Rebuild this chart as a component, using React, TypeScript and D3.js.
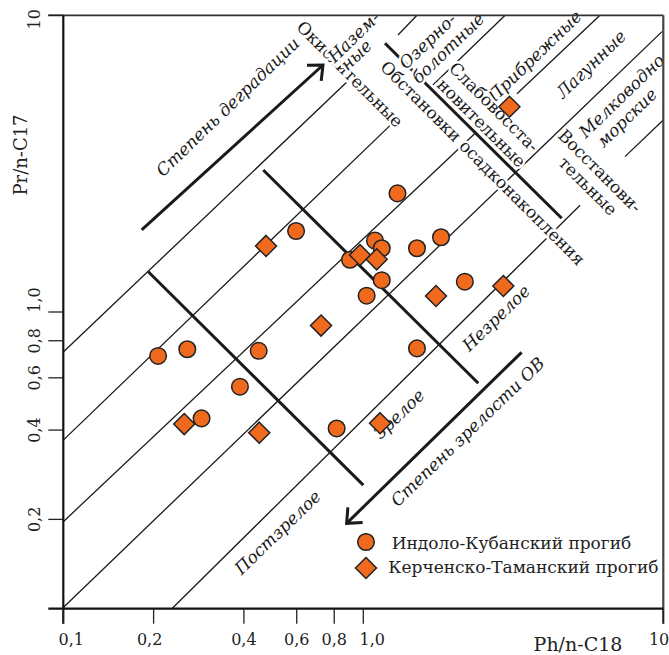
import React, { useEffect, useRef } from "react";
import * as d3 from "d3";

// Индоло-Кубанский прогиб: Ph/n-C18 и Pr/n-C17
const indoloPh = [0.207, 0.259, 0.448, 0.388, 0.289, 0.815, 1.51, 0.597, 1.3, 0.903, 1.094, 1.152, 1.51, 1.816, 1.152, 1.026, 2.18];
const indoloPr = [0.711, 0.749, 0.74, 0.56, 0.438, 0.405, 0.754, 1.875, 2.51, 1.5, 1.74, 1.64, 1.64, 1.786, 1.28, 1.135, 1.265];

// Керченско-Таманский прогиб
const kerchPh = [0.474, 0.723, 0.253, 0.45, 1.137, 0.975, 1.108, 1.747, 2.93, 3.07];
const kerchPr = [1.67, 0.9, 0.419, 0.392, 0.422, 1.556, 1.505, 1.132, 1.224, 4.92];

// тонкие границы обстановок [x1, y1, x2, y2]
const faciesLines = [
	[0.1, 0.733, 0.896, 6.05],
	[1.305, 8.58, 1.51, 10],
	[0.1, 0.37, 1.305, 4.51],
	[1.707, 5.82, 2.97, 10],
	[0.1, 0.1965, 2.375, 4.03],
	[3.253, 5.44, 6.15, 10],
	[0.1, 0.101, 9.9, 8.81],
	[0.23, 0.1, 5.28, 2.29],
	[7.45, 3.34, 10, 4.44],
];

// толстые границы (обстановки, зрелость)
const boundaryLines = [
	[1.181, 8.05, 4.585, 2.07],
	[0.192, 1.367, 1.0, 0.261],
	[0.464, 3.01, 2.417, 0.575],
];

const arrowLines = [
	[0.1825, 1.89, 0.734, 6.8],
	[3.37, 0.731, 0.88, 0.194],
];

const xTicks = [0.1, 0.2, 0.4, 0.6, 0.8, 1, 10];
const xTickLabels = ["0,1", "0,2", "0,4", "0,6", "0,8", "1,0", "10"];
const yTicks = [0.2, 0.4, 0.6, 0.8, 1, 10];
const yTickLabels = ["0,2", "0,4", "0,6", "0,8", "1,0", "10"];

const labels = [
	{ text: "Степень деградации", x: 0.353, y: 4.92, angle: -44, italic: true, halo: false },
	{ text: "Окислительные", x: 0.903, y: 6.34, angle: 45, italic: false, halo: true },
	{ text: "Назем-", x: 0.928, y: 8.45, angle: -44, italic: true, halo: true },
	{ text: "ные", x: 0.946, y: 7.35, angle: -44, italic: true, halo: true },
	{ text: "Озерно-", x: 1.637, y: 8.19, angle: -44, italic: true, halo: true },
	{ text: "болотные", x: 1.916, y: 7.76, angle: -44, italic: true, halo: true },
	{ text: "Прибрежные", x: 3.72, y: 7.29, angle: -44, italic: true, halo: true },
	{ text: "Лагунные", x: 5.74, y: 6.85, angle: -44, italic: true, halo: true },
	{ text: "Мелководно", x: 7.26, y: 5.35, angle: -44, italic: true, halo: true },
	{ text: "морские", x: 7.55, y: 4.52, angle: -44, italic: true, halo: true },
	{ text: "Обстановки осадконакопления", x: 2.5, y: 3.18, angle: 45, italic: false, halo: true },
	{ text: "Слабовосста-", x: 2.73, y: 4.91, angle: 45, italic: false, halo: true },
	{ text: "новительные", x: 2.48, y: 4.34, angle: 45, italic: false, halo: true },
	{ text: "Восстанови-", x: 6.15, y: 2.99, angle: 45, italic: false, halo: true },
	{ text: "тельные", x: 5.61, y: 2.66, angle: 45, italic: false, halo: true },
	{ text: "Постзрелое", x: 0.518, y: 0.181, angle: -44, italic: true, halo: true },
	{ text: "Зрелое", x: 1.315, y: 0.453, angle: -44, italic: true, halo: false },
	{ text: "Незрелое", x: 2.77, y: 0.955, angle: -44, italic: true, halo: true },
	{ text: "Степень зрелости ОВ", x: 2.225, y: 0.395, angle: -44, italic: true, halo: false },
];

const legendItems = ["Индоло-Кубанский прогиб", "Керченско-Таманский прогиб"];

const ORANGE = "#ef6a1d";
const FONT = "'DejaVu Serif', serif";

const App = () => {
	const ref = useRef(null);

	useEffect(() => {
		const width = 669;
		const height = 655;

		const x = d3.scaleLog().domain([0.1, 10]).range([63.3, 663.3]);
		const y = d3.scaleLog().domain([0.1, 10]).range([608.7, 15.3]);

		// сдвиги подписей делений, как на исходном рисунке
		const xNudge = (d) => (d === 0.1 ? 8 : d === 1 ? 9 : d === 0.2 ? -4 : 0);
		const yNudge = (d) => (d === 10 ? 4 : d === 1 ? -12 : 0);

		d3.select(ref.current).selectAll("*").remove();
		const svg = d3
			.select(ref.current)
			.append("svg")
			.attr("width", width)
			.attr("height", height)
			.style("position", "absolute")
			.style("left", 0)
			.style("top", 0)
			.style("font-family", FONT);

		svg.append("rect").attr("width", width).attr("height", height).attr("fill", "white");

		// тонкие линии
		svg
			.append("g")
			.selectAll("line")
			.data(faciesLines)
			.join("line")
			.attr("x1", (d) => x(d[0]))
			.attr("y1", (d) => y(d[1]))
			.attr("x2", (d) => x(d[2]))
			.attr("y2", (d) => y(d[3]))
			.attr("stroke", "#1a1a1a")
			.attr("stroke-width", 1.3);

		svg
			.append("g")
			.selectAll("line")
			.data(boundaryLines)
			.join("line")
			.attr("x1", (d) => x(d[0]))
			.attr("y1", (d) => y(d[1]))
			.attr("x2", (d) => x(d[2]))
			.attr("y2", (d) => y(d[3]))
			.attr("stroke", "#1a1a1a")
			.attr("stroke-width", 3);

		// стрелки
		arrowLines.forEach((d) => {
			const x1 = x(d[0]);
			const y1 = y(d[1]);
			const x2 = x(d[2]);
			const y2 = y(d[3]);
			const a = Math.atan2(y1 - y2, x1 - x2);
			const len = 16;
			const spread = 0.72;
			svg
				.append("line")
				.attr("x1", x1)
				.attr("y1", y1)
				.attr("x2", x2)
				.attr("y2", y2)
				.attr("stroke", "#1a1a1a")
				.attr("stroke-width", 3);
			svg
				.append("path")
				.attr(
					"d",
					`M${x2 + len * Math.cos(a + spread)},${y2 + len * Math.sin(a + spread)}L${x2},${y2}L${x2 + len * Math.cos(a - spread)},${y2 + len * Math.sin(a - spread)}`,
				)
				.attr("fill", "none")
				.attr("stroke", "#1a1a1a")
				.attr("stroke-width", 3)
				.attr("stroke-linejoin", "miter");
		});

		// подписи полей
		svg
			.append("g")
			.selectAll("text")
			.data(labels)
			.join("text")
			.attr("transform", (d) => `translate(${x(d.x)},${y(d.y)}) rotate(${d.angle})`)
			.attr("text-anchor", "middle")
			.attr("dominant-baseline", "central")
			.attr("font-size", 17)
			.attr("font-style", (d) => (d.italic ? "italic" : "normal"))
			.attr("fill", "#1a1a1a")
			.attr("stroke", (d) => (d.halo ? "white" : "none"))
			.attr("stroke-width", 5)
			.attr("paint-order", "stroke")
			.text((d) => d.text);

		// точки
		const circles = indoloPh.map((v, i) => [v, indoloPr[i]]);
		const diamonds = kerchPh.map((v, i) => [v, kerchPr[i]]);

		svg
			.append("g")
			.selectAll("circle")
			.data(circles)
			.join("circle")
			.attr("cx", (d) => x(d[0]))
			.attr("cy", (d) => y(d[1]))
			.attr("r", 8.3)
			.attr("fill", ORANGE)
			.attr("stroke", "#222")
			.attr("stroke-width", 1.5);

		const diamondPath = (cx, cy, s) => `M${cx},${cy - s}L${cx + s},${cy}L${cx},${cy + s}L${cx - s},${cy}Z`;

		svg
			.append("g")
			.selectAll("path")
			.data(diamonds)
			.join("path")
			.attr("d", (d) => diamondPath(x(d[0]), y(d[1]), 10.5))
			.attr("fill", ORANGE)
			.attr("stroke", "#222")
			.attr("stroke-width", 1.5);

		// рамка и оси
		const x0 = x(0.1);
		const xEnd = x(10);
		const yTop = y(10);
		const yBot = y(0.1);
		const tick = 15;

		svg.append("line").attr("x1", x0 - tick).attr("x2", xEnd).attr("y1", yTop).attr("y2", yTop).attr("stroke", "#333").attr("stroke-width", 1.8);
		svg.append("line").attr("x1", xEnd).attr("x2", xEnd).attr("y1", yTop).attr("y2", yBot + tick).attr("stroke", "#444").attr("stroke-width", 2.2);
		svg.append("line").attr("x1", x0).attr("x2", x0).attr("y1", yTop).attr("y2", yBot + tick).attr("stroke", "#111").attr("stroke-width", 2.2);
		svg.append("line").attr("x1", x0 - tick).attr("x2", xEnd).attr("y1", yBot).attr("y2", yBot).attr("stroke", "#111").attr("stroke-width", 2.2);

		svg
			.append("g")
			.selectAll("line")
			.data(yTicks)
			.join("line")
			.attr("x1", x0 - tick)
			.attr("x2", x0)
			.attr("y1", (d) => y(d))
			.attr("y2", (d) => y(d))
			.attr("stroke", "#222")
			.attr("stroke-width", 1.3);

		svg
			.append("g")
			.selectAll("line")
			.data(xTicks)
			.join("line")
			.attr("x1", (d) => x(d))
			.attr("x2", (d) => x(d))
			.attr("y1", yBot)
			.attr("y2", yBot + tick)
			.attr("stroke", "#222")
			.attr("stroke-width", 1.3);

		svg
			.append("g")
			.selectAll("text")
			.data(xTicks)
			.join("text")
			.attr("x", (d) => (d === 10 ? x(d) + 6 : x(d) + xNudge(d)))
			.attr("y", 645)
			.attr("text-anchor", (d) => (d === 10 ? "end" : "middle"))
			.attr("font-size", 16)
			.attr("fill", "#222")
			.text((d, i) => xTickLabels[i]);

		svg
			.append("g")
			.selectAll("text")
			.data(yTicks)
			.join("text")
			.attr("transform", (d) => `translate(40,${y(d) + yNudge(d)}) rotate(-90)`)
			.attr("text-anchor", "middle")
			.attr("font-size", 16)
			.attr("fill", "#222")
			.text((d, i) => yTickLabels[i]);

		svg
			.append("text")
			.attr("transform", "translate(26.5,155) rotate(-90)")
			.attr("text-anchor", "middle")
			.attr("font-size", 18)
			.attr("fill", "#222")
			.text("Pr/n-C17");

		svg
			.append("text")
			.attr("x", 578)
			.attr("y", 651)
			.attr("text-anchor", "middle")
			.attr("font-size", 19)
			.attr("fill", "#222")
			.text("Ph/n-C18");

		// легенда
		const legend = svg.append("g").attr("transform", "translate(366,542)");
		legend.append("circle").attr("r", 8.3).attr("fill", ORANGE).attr("stroke", "#222").attr("stroke-width", 1.5);
		legend.append("path").attr("d", diamondPath(0, 26, 10.5)).attr("fill", ORANGE).attr("stroke", "#222").attr("stroke-width", 1.5);
		legend
			.selectAll("text")
			.data(legendItems)
			.join("text")
			.attr("x", (d, i) => (i === 0 ? 25.7 : 22.3))
			.attr("y", (d, i) => 7 + i * 24)
			.attr("font-size", 17)
			.attr("fill", "#222")
			.text((d) => d);
	}, []);

	return <div ref={ref}></div>;
};

export default App;
